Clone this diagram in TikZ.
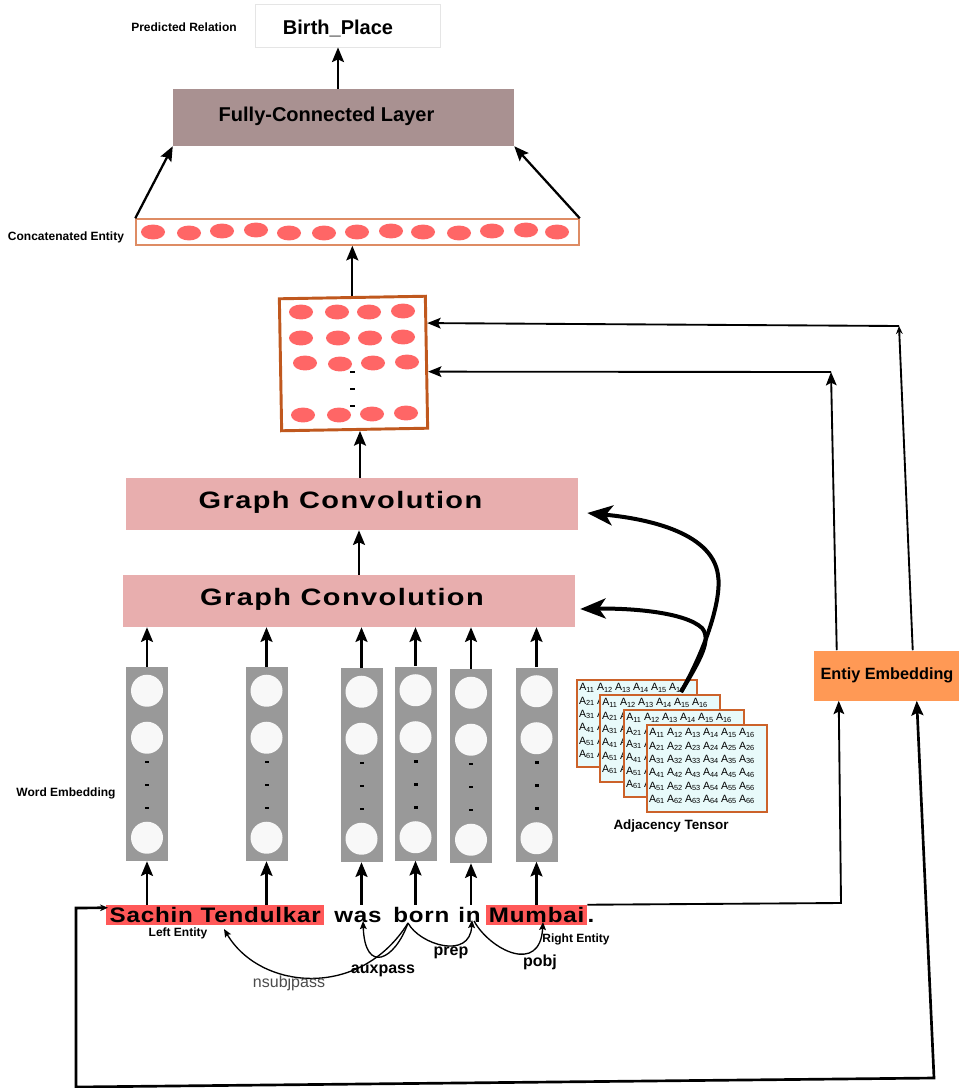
\documentclass[tikz,border=0pt]{standalone}
\usepackage{fontspec}
\setmainfont{Liberation Sans}
\newfontfamily\sentfont{Liberation Sans}[FakeStretch=1.15, LetterSpace=4]
\newfontfamily\gcfont{Liberation Sans}[FakeStretch=1.22, LetterSpace=6]
\usetikzlibrary{arrows.meta,calc}

\definecolor{fcfill}{RGB}{169,145,145}
\definecolor{gcfill}{RGB}{232,174,174}
\definecolor{hl}{RGB}{255,88,88}
\definecolor{dotc}{RGB}{255,102,102}
\definecolor{eefill}{RGB}{255,153,85}
\definecolor{colgray}{RGB}{153,153,153}
\definecolor{circfill}{RGB}{248,248,248}
\definecolor{cardfill}{RGB}{232,250,250}
\definecolor{cardedge}{RGB}{204,98,42}
\definecolor{matedge}{RGB}{192,88,30}
\definecolor{baredge}{RGB}{222,140,100}

\begin{document}
\begin{tikzpicture}[x=0.75pt, y=-0.75pt,
  arr/.style={line width=1.7pt, -{Stealth[length=11pt,width=9pt,inset=2pt]}},
  thinarr/.style={line width=1.4pt, -{Stealth[length=10pt,width=8pt,inset=2pt]}},
  bigarr/.style={line width=3pt, -{Stealth[length=19pt,width=15pt,inset=5pt]}},
  arc/.style={line width=1pt, -{Stealth[length=6pt,width=5pt,inset=1pt]}},
  lbl/.style={font=\fontsize{9}{11}\selectfont\bfseries, inner sep=0},
  dep/.style={font=\fontsize{12}{14}\selectfont\bfseries, inner sep=0},
  gcbox/.style={fill=gcfill, minimum width=339pt, minimum height=39pt, inner sep=0},
  gct/.style={font=\gcfont\fontsize{17.8}{20}\selectfont\bfseries, inner sep=0},
  colbox/.style={fill=colgray, minimum width=31.5pt, minimum height=145.5pt, inner sep=0},
  word/.style={font=\sentfont\fontsize{15.75}{18}\selectfont\bfseries, inner xsep=0, inner ysep=0,
    text height=12.75pt, text depth=2.25pt, anchor=base west},
  card/.style={draw=cardedge, fill=cardfill, line width=1.5pt, minimum width=90pt,
    minimum height=65.25pt, inner sep=0, anchor=north west},
  entry/.style={font=\fontsize{7.9}{8}\selectfont, inner sep=0}
]
\useasboundingbox (0,0) rectangle (959,1088);
\fill[white] (0,0) rectangle (959,1088);

% ---------- output ----------
\node[draw=black!10, line width=0.6pt, minimum width=138.75pt, minimum height=32.25pt, inner sep=0] (bp) at (348,25.5) {};
\node[font=\fontsize{15}{18}\selectfont\bfseries, inner sep=0] (bpt) at (338,28) {Birth\_Place};
\node[lbl] (prl) at (184,27) {Predicted Relation};

% ---------- fully-connected layer ----------
\node[fill=fcfill, minimum width=255.75pt, minimum height=42.75pt, inner sep=0] (fc) at (343.5,117.5) {};
\node[font=\fontsize{15}{18}\selectfont\bfseries, inner sep=0] (fct) at (326.5,116) {Fully-Connected Layer};
\draw[arr] (fc.north -| bpt) -- (bp.south -| bpt);

% ---------- concatenated entity ----------
\node[draw=baredge, line width=1.1pt, minimum width=332.25pt, minimum height=19.5pt, inner sep=0] (bar) at (357.5,232) {};
\foreach \x/\y in {153/232, 189/233, 222/231, 256/230, 289/233, 324/233, 357/232,
                   391/231, 423/232, 459/233, 492/231, 526/230, 557/232}
  \fill[dotc] (\x,\y) ellipse [x radius=9pt, y radius=5.6pt];
\node[lbl] (cel) at (66,237) {Concatenated Entity};
\draw[arr] (bar.north west) -- (fc.south west);
\draw[arr] (bar.north east) -- (fc.south east);

% ---------- entity matrix ----------
\node[draw=matedge, line width=2.2pt, minimum width=109.5pt, minimum height=99pt, inner sep=0, rotate=1] (mat) at (353.5,363.5) {};
\foreach \x/\y in {301/312, 337/312, 369/312, 403/311,
                   301/338, 338/338, 370/338, 403/337,
                   305/363, 340/364, 373/363, 407/362,
                   303/415, 339/415, 372/414, 406/413}
  \fill[dotc] (\x,\y) ellipse [x radius=9pt, y radius=5.6pt];
\foreach \y in {371,388,405}
  \fill (349.5,\y) rectangle ++(5,2);
\draw[arr] (mat.north) -- (mat.north |- bar.south);

% ---------- graph convolutions ----------
\node[gcbox] (gc2) at (352,504) {};
\node[gct] (gc2t) at (340.5,502) {Graph Convolution};
\node[gcbox] (gc1) at (349,601) {};
\node[gct] (gc1t) at (342,599) {Graph Convolution};
\coordinate (g2top) at ($(gc2.north)+(8,0)$);
\draw[arr] (g2top) -- (g2top |- mat.south);
\coordinate (g1top) at ($(gc1.north)+(10,0)$);
\draw[arr] (g1top) -- (g1top |- gc2.south);

% ---------- word embeddings ----------
\foreach \i/\x/\y in {1/147/764, 2/266.5/764, 3/361.5/765, 4/415.5/763.5, 5/471/766, 6/536.5/764.5} {
  \node[colbox] (col\i) at (\x,\y) {};
  \foreach \dy in {24,71,171}
    \fill[circfill] ($(col\i.north)+(0,\dy)$) circle[radius=12pt];
  \foreach \dy in {95,118,141}
    \fill ($(col\i.north)+(-2,\dy-1.2)$) rectangle ++(4,2.5);
  \draw[arr] (col\i.north) -- (col\i.north |- gc1.south);
}
\node[lbl] (wel) at (66,793) {Word Embedding};

% ---------- sentence ----------
\node[word, fill=hl, inner xsep=2.5pt] (sachin) at (106,922) {Sachin Tendulkar};
\node[word] (was) at (334,922) {was};
\node[word] (born) at (393,922) {born};
\node[word] (in) at (458,922) {in};
\node[word, fill=hl, inner xsep=2pt] (mumbai) at (486,922) {Mumbai};
\node[word] (dotn) at (mumbai.base east) {.};

\draw[arr] (col1 |- sachin.north) -- (col1.south);
\draw[arr] (col2 |- sachin.north) -- (col2.south);
\draw[arr] (col3 |- was.north) -- (col3.south);
\draw[arr] (col4 |- born.north) -- (col4.south);
\draw[arr] (col5 |- in.north) -- (col5.south);
\draw[arr] (col6 |- mumbai.north) -- (col6.south);

\node[lbl] (lel) at (178,933) {Left Entity};
\node[lbl] (rel) at (576,939) {Right Entity};

% ---------- dependency arcs ----------
\coordinate (bornfoot) at (408,923);
\coordinate (infoot) at (474,921);
\coordinate (tendtip) at (224,929);
\coordinate (wastip) at (363,921);
\coordinate (intip) at (472,920);
\coordinate (mumtip) at (543,922);
\draw[arc] (bornfoot) .. controls (360,1000) and (260,990) .. (tendtip);
\draw[arc] (bornfoot) .. controls (395,960) and (365,975) .. (wastip);
\draw[arc] (bornfoot) .. controls (420,945) and (470,960) .. (intip);
\draw[arc] (infoot) .. controls (490,950) and (540,975) .. (mumtip);
\node[dep] (prepl) at (451,953) {prep};
\node[dep] (pobjl) at (540,962) {pobj};
\node[dep] (auxl) at (383,971) {auxpass};
\node[font=\fontsize{12}{14}\selectfont, text=black!70, inner sep=0] (nsubl) at (289,983) {nsubjpass};

% ---------- entity embedding ----------
\node[fill=eefill, minimum width=109.5pt, minimum height=37.5pt, inner sep=0,
      font=\fontsize{12.2}{14}\selectfont\bfseries] (ee) at (887,675.5) {Entiy Embedding};

\coordinate (l1) at (76,908);
\coordinate (l2) at (76,1087);
\coordinate (l3) at (934,1078);
\draw[line width=2pt, {Stealth[length=6pt,width=5pt]}-{Stealth[length=11pt,width=9pt,inset=2pt]}]
  ($(sachin.north west)+(2,3)$) -- (l1) -- (l2) -- (l3) -- ($(ee.south west)+(103,0)$);
\coordinate (r1) at (841,903);
\draw[thinarr] (mumbai.north east) -- (r1) -- ($(ee.south west)+(25,0)$);

\coordinate (k1) at (831,372);
\coordinate (k2) at (899,326);
\draw[thinarr] ($(ee.north west)+(23,0)$) -- (k1);
\draw[thinarr] (k1) -- ($(mat.north east)!0.57!(mat.south east)$);
\draw[line width=1.4pt, -{Stealth[length=6pt,width=5pt]}] ($(ee.north west)+(99,0)$) -- (k2);
\draw[thinarr] (k2) -- ($(mat.north east)!0.21!(mat.south east)$);

% ---------- adjacency tensor: four stacked 6x6 slices ----------
\foreach \i/\x/\y in {1/576/679, 2/599/694, 3/623/709, 4/646/724} {
  \node[card] (card\i) at (\x,\y) {};
  \foreach \r in {1,...,6}
    \foreach \c in {1,...,6}
      \node[entry] (e\i-\r-\c) at ($(card\i.north west)+(18*\c-7, 13.3*\r-4.3)$) {A\textsubscript{\r\c}};
}
\node[font=\fontsize{10.1}{12}\selectfont\bfseries, inner sep=0] (adjl) at (671,826) {Adjacency Tensor};

\coordinate (tsrc) at (681,692);
\draw[bigarr] (tsrc) .. controls (705,650) and (722,600) .. (718,575)
  .. controls (712,530) and (640,518) .. ($(gc2.east)+(9,9)$);
\draw[bigarr] (tsrc) .. controls (700,660) and (712,640) .. (702,628)
  .. controls (685,612) and (630,608) .. ($(gc1.east)+(5,8)$);
\end{tikzpicture}
\end{document}
